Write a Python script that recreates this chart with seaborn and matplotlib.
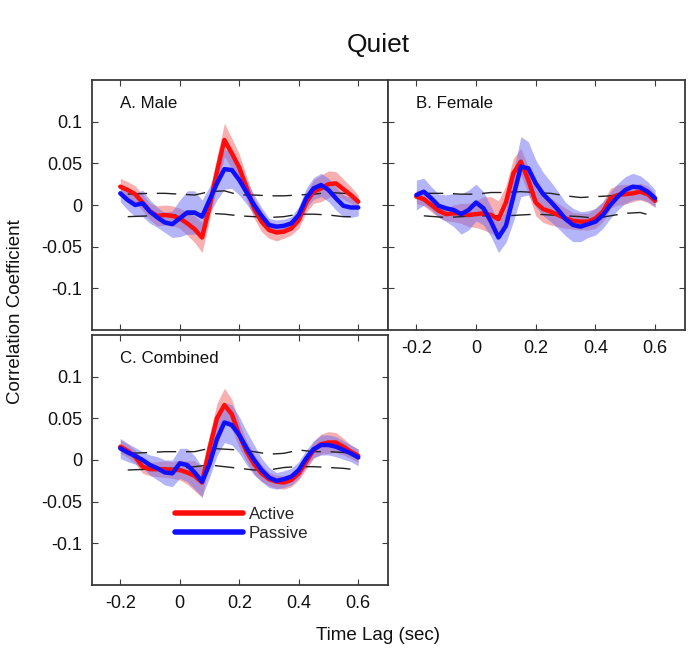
import numpy as np
import pandas as pd
import matplotlib
matplotlib.use("Agg")
import matplotlib.pyplot as plt
import seaborn as sns

# ---------------- data ----------------
lag = [-0.2, -0.175, -0.15, -0.125, -0.1, -0.075, -0.05, -0.025, 0.0, 0.025, 0.05,
       0.075, 0.1, 0.125, 0.15, 0.175, 0.2, 0.225, 0.25, 0.275, 0.3, 0.325, 0.35,
       0.375, 0.4, 0.425, 0.45, 0.475, 0.5, 0.525, 0.55, 0.575, 0.6]

male_active = [0.022, 0.018, 0.013, 0.003, -0.008, -0.013, -0.012, -0.013, -0.016, -0.022, -0.029,
               -0.039, -0.002, 0.040, 0.078, 0.062, 0.045, 0.020, -0.004, -0.020, -0.030, -0.033, -0.032,
               -0.028, -0.018, 0.003, 0.016, 0.020, 0.025, 0.026, 0.019, 0.012, 0.004]
male_active_err = [0.010, 0.010, 0.010, 0.010, 0.010, 0.012, 0.012, 0.012, 0.012, 0.014, 0.016,
                   0.018, 0.016, 0.018, 0.020, 0.018, 0.016, 0.014, 0.012, 0.012, 0.010, 0.010, 0.008,
                   0.008, 0.010, 0.012, 0.014, 0.016, 0.016, 0.014, 0.012, 0.010, 0.008]
male_passive = [0.014, 0.006, 0.000, 0.002, -0.008, -0.015, -0.021, -0.023, -0.016, -0.009, -0.009,
                -0.014, 0.006, 0.026, 0.043, 0.042, 0.030, 0.015, 0.000, -0.013, -0.024, -0.026, -0.025,
                -0.022, -0.012, 0.008, 0.020, 0.024, 0.018, 0.008, -0.001, -0.003, -0.003]
male_passive_err = [0.010, 0.012, 0.014, 0.016, 0.014, 0.012, 0.012, 0.016, 0.022, 0.026, 0.026,
                    0.020, 0.016, 0.020, 0.024, 0.022, 0.018, 0.014, 0.012, 0.010, 0.008, 0.008, 0.008,
                    0.008, 0.010, 0.012, 0.013, 0.014, 0.014, 0.014, 0.013, 0.012, 0.010]

female_active = [0.010, 0.007, 0.000, -0.007, -0.011, -0.010, -0.010, -0.012, -0.011, -0.010, -0.012,
                 -0.017, 0.003, 0.038, 0.052, 0.030, 0.003, -0.005, -0.008, -0.012, -0.016, -0.019, -0.020,
                 -0.020, -0.016, -0.008, 0.008, 0.012, 0.013, 0.014, 0.016, 0.013, 0.005]
female_active_err = [0.008, 0.008, 0.008, 0.008, 0.008, 0.010, 0.012, 0.014, 0.016, 0.020, 0.022,
                     0.022, 0.020, 0.018, 0.016, 0.016, 0.016, 0.016, 0.016, 0.014, 0.012, 0.010, 0.010,
                     0.010, 0.012, 0.012, 0.012, 0.012, 0.012, 0.010, 0.010, 0.010, 0.008]
female_passive = [0.012, 0.016, 0.008, -0.001, -0.004, -0.006, -0.011, -0.006, 0.003, -0.004, -0.020,
                  -0.039, -0.025, 0.010, 0.046, 0.044, 0.026, 0.013, 0.004, -0.006, -0.017, -0.024, -0.026,
                  -0.023, -0.020, -0.012, 0.000, 0.010, 0.018, 0.022, 0.021, 0.016, 0.008]
female_passive_err = [0.018, 0.016, 0.014, 0.014, 0.016, 0.020, 0.024, 0.024, 0.022, 0.020, 0.018,
                      0.018, 0.020, 0.030, 0.036, 0.032, 0.028, 0.026, 0.024, 0.022, 0.020, 0.020, 0.018,
                      0.016, 0.016, 0.016, 0.016, 0.016, 0.016, 0.016, 0.014, 0.012, 0.010]

combined_active = [0.016, 0.011, 0.004, -0.008, -0.011, -0.011, -0.011, -0.012, -0.012, -0.015, -0.019,
                   -0.027, 0.014, 0.050, 0.066, 0.055, 0.030, 0.010, -0.005, -0.016, -0.023, -0.026, -0.027,
                   -0.024, -0.016, -0.002, 0.012, 0.019, 0.021, 0.021, 0.016, 0.010, 0.005]
combined_active_err = [0.008, 0.008, 0.008, 0.008, 0.008, 0.009, 0.010, 0.010, 0.012, 0.014, 0.018,
                       0.018, 0.016, 0.018, 0.020, 0.018, 0.015, 0.012, 0.012, 0.010, 0.008, 0.008, 0.008,
                       0.008, 0.008, 0.009, 0.010, 0.012, 0.013, 0.012, 0.010, 0.008, 0.008]
combined_passive = [0.014, 0.009, 0.005, 0.000, -0.006, -0.010, -0.015, -0.016, -0.004, -0.006, -0.015,
                    -0.026, -0.005, 0.025, 0.045, 0.042, 0.030, 0.014, 0.000, -0.012, -0.021, -0.025, -0.023,
                    -0.020, -0.012, 0.002, 0.013, 0.018, 0.018, 0.016, 0.012, 0.008, 0.003]
combined_passive_err = [0.012, 0.011, 0.010, 0.010, 0.012, 0.014, 0.015, 0.016, 0.018, 0.020, 0.020,
                        0.018, 0.016, 0.020, 0.024, 0.024, 0.022, 0.020, 0.018, 0.014, 0.012, 0.010, 0.010,
                        0.010, 0.010, 0.010, 0.010, 0.012, 0.012, 0.012, 0.011, 0.010, 0.010]

# chance-level (dashed) bounds
thr_lag = [-0.175, -0.1, -0.05, 0.0, 0.05, 0.1, 0.15, 0.2, 0.25, 0.3, 0.35, 0.4, 0.45, 0.5, 0.55, 0.6]
male_upper = [0.013, 0.014, 0.014, 0.013, 0.012, 0.016, 0.017, 0.012, 0.012, 0.011, 0.011, 0.012, 0.013, 0.015, 0.014, 0.013]
male_lower = [-0.014, -0.013, -0.012, -0.012, -0.011, -0.010, -0.011, -0.013, -0.014, -0.015, -0.014, -0.011, -0.011, -0.012, -0.014, -0.014]
female_upper = [0.014, 0.014, 0.013, 0.013, 0.015, 0.015, 0.016, 0.015, 0.014, 0.011, 0.009, 0.010, 0.011, 0.014, 0.015, 0.012]
female_lower = [-0.013, -0.015, -0.014, -0.013, -0.013, -0.013, -0.012, -0.011, -0.012, -0.013, -0.014, -0.016, -0.013, -0.010, -0.009, -0.014]
combined_upper = [0.008, 0.009, 0.010, 0.010, 0.010, 0.014, 0.013, 0.012, 0.010, 0.007, 0.008, 0.012, 0.010, 0.010, 0.009, 0.008]
combined_lower = [-0.012, -0.011, -0.010, -0.010, -0.008, -0.006, -0.008, -0.010, -0.012, -0.012, -0.009, -0.008, -0.008, -0.009, -0.010, -0.012]

panel_titles = ["A. Male", "B. Female", "C. Combined"]
condition_names = ["Active", "Passive"]
x_ticks = [-0.2, 0, 0.2, 0.4, 0.6]
x_ticklabels = ["-0.2", "0", "0.2", "0.4", "0.6"]
y_ticks = [-0.1, -0.05, 0, 0.05, 0.1]
y_ticklabels = ["-0.1", "-0.05", "0", "0.05", "0.1"]

# ---------------- style ----------------
sns.set_style("white")
plt.rcParams["font.family"] = ["Liberation Sans", "DejaVu Sans"]
plt.rcParams["axes.unicode_minus"] = False

RED = "#ff0d0d"
BLUE = "#1010ff"
FRAME = "#3a3a3a"

fig = plt.figure(figsize=(6.94, 6.60), dpi=100)
W, H = 694.0, 660.0


def add_ax(left, top, right, bottom):
    return fig.add_axes([left / W, 1 - bottom / H, (right - left) / W, (bottom - top) / H])


axA = add_ax(92, 80, 388, 330)
axB = add_ax(388, 80, 685, 330)
axC = add_ax(92, 335, 388, 585)

panels = [
    (axA, male_active, male_active_err, male_passive, male_passive_err, male_upper, male_lower, True, False),
    (axB, female_active, female_active_err, female_passive, female_passive_err, female_upper, female_lower, False, True),
    (axC, combined_active, combined_active_err, combined_passive, combined_passive_err, combined_upper, combined_lower, True, True),
]

for i, (ax, act, act_e, pas, pas_e, up, lo, show_y, show_x) in enumerate(panels):
    x = np.array(lag)
    a, ae = np.array(act), np.array(act_e)
    p, pe = np.array(pas), np.array(pas_e)
    ax.fill_between(x, a - ae, a + ae, color="#f06060", alpha=0.5, linewidth=0, zorder=1)
    ax.fill_between(x, p - pe, p + pe, color="#6a6af2", alpha=0.5, linewidth=0, zorder=1)
    ax.plot(thr_lag, up, color="#222222", lw=1.0, dashes=(14, 7), zorder=2)
    ax.plot(thr_lag, lo, color="#222222", lw=1.0, dashes=(14, 7), zorder=2)
    df = pd.DataFrame({
        "lag": lag * 2,
        "r": list(act) + list(pas),
        "cond": [condition_names[0]] * len(lag) + [condition_names[1]] * len(lag),
    })
    sns.lineplot(data=df, x="lag", y="r", hue="cond", palette=[RED, BLUE],
                 linewidth=3.2, ax=ax, legend=(i == 2), zorder=3)
    ax.set_xlim(-0.295, 0.70)
    ax.set_ylim(-0.15, 0.15)
    ax.set_xlabel("")
    ax.set_ylabel("")
    ax.set_xticks(x_ticks)
    ax.set_yticks(y_ticks)
    ax.set_xticklabels(x_ticklabels if show_x else [])
    ax.set_yticklabels(y_ticklabels if show_y else [])
    ax.tick_params(direction="in", length=4, width=0.8, color=FRAME,
                   top=True, right=True, bottom=True, left=True,
                   labelsize=13, pad=7, labelcolor="#111111")
    for s in ax.spines.values():
        s.set_color(FRAME)
        s.set_linewidth(1.3)
    ax.text(0.095, 0.905, panel_titles[i], transform=ax.transAxes,
            ha="left", va="center", fontsize=12.2, color="#111111")
    if i == 2:
        leg = ax.get_legend()
        handles = leg.legend_handles
        leg.remove()
        ax.legend(handles=handles, labels=condition_names, loc="center left",
                  bbox_to_anchor=(0.23, 0.245), frameon=False, handlelength=4.0,
                  fontsize=12.2, labelspacing=0.25, handletextpad=0.35)
        for h in ax.get_legend().legend_handles:
            h.set_linewidth(4.0)

fig.text(378 / W, 1 - 45 / H, "Quiet", ha="center", va="center", fontsize=19, color="#111111")
fig.text(16 / W, 1 - 312 / H, "Correlation Coefficient", ha="center", va="center",
         rotation=90, fontsize=13.5, color="#111111")
fig.text(378 / W, 1 - 635 / H, "Time Lag (sec)", ha="center", va="center",
         fontsize=13.5, color="#111111")

fig.savefig("out.png", dpi=100)
